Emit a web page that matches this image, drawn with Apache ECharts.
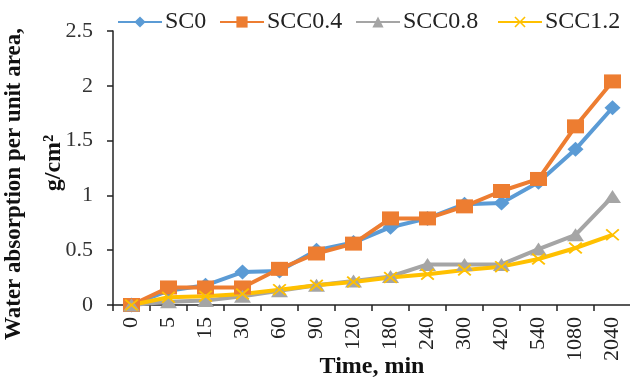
<!DOCTYPE html>
<html><head><meta charset="utf-8">
<script src="https://cdn.jsdelivr.net/npm/echarts@6/dist/echarts.min.js"></script>
<style>html,body{margin:0;padding:0;background:#fff}#c{width:630px;height:378px}</style>
</head><body><div id="c"></div>
<script>
const categories = ['0','5','15','30','60','90','120','180','240','300','420','540','1080','2040'];
const sc0     = [0, 0.13, 0.18, 0.30, 0.31, 0.50, 0.57, 0.71, 0.79, 0.92, 0.93, 1.12, 1.42, 1.80];
const scc04   = [0, 0.16, 0.16, 0.16, 0.33, 0.47, 0.56, 0.79, 0.79, 0.90, 1.04, 1.15, 1.63, 2.04];
const scc08   = [0, 0.03, 0.04, 0.08, 0.13, 0.18, 0.22, 0.26, 0.37, 0.37, 0.37, 0.51, 0.64, 0.99];
const scc12   = [0, 0.07, 0.08, 0.10, 0.14, 0.18, 0.21, 0.25, 0.28, 0.32, 0.35, 0.42, 0.52, 0.64];
const seriesNames = ['SC0','SCC0.4','SCC0.8','SCC1.2'];
const yTicks  = [0, 0.5, 1, 1.5, 2, 2.5];

const serif = '"Liberation Serif","Times New Roman",serif';
const xPath = 'path://M0,1L1,0L5,4L9,0L10,1L6,5L10,9L9,10L5,6L1,10L0,9L4,5Z';

function mk(name, data, color, symbol, size) {
  return {
    name, type: 'line', data, symbol, symbolSize: size,
    lineStyle: { color, width: 4 },
    itemStyle: { color },
    emphasis: { disabled: true }
  };
}

const legendLefts = [112, 214, 350, 492];
const legends = seriesNames.map((n, i) => ({
  data: [n], top: 5, left: legendLefts[i], itemGap: 0, itemWidth: 44, itemHeight: 14,
  textStyle: { fontFamily: serif, fontSize: 24, color: '#222', padding: [0, 0, 0, -2] }
}));

const chart = echarts.init(document.getElementById('c'), null, { renderer: 'canvas' });
chart.setOption({
  animation: false,
  legend: legends,
  grid: { left: 113, right: -1, top: 31, bottom: 73, containLabel: false, outerBoundsMode: 'none' },
  xAxis: {
    type: 'category', data: categories, boundaryGap: true,
    axisLine: { lineStyle: { color: '#222', width: 1.5 } },
    axisTick: { show: true, alignWithLabel: false, length: 6, lineStyle: { color: '#222', width: 1.5 } },
    axisLabel: { rotate: 90, fontFamily: serif, fontSize: 22, color: '#222', margin: 12, interval: 0 },
    name: 'Time, min', nameLocation: 'middle', nameGap: 50, nameMoveOverlap: false,
    nameTextStyle: { fontFamily: serif, fontSize: 24, fontWeight: 'bold', color: '#111' }
  },
  yAxis: {
    type: 'value', min: yTicks[0], max: yTicks[yTicks.length-1], interval: 0.5,
    axisLine: { show: true, lineStyle: { color: '#222', width: 1.5 } },
    axisTick: { show: true, inside: false, length: 6, lineStyle: { color: '#222', width: 1.5 } },
    splitLine: { show: false },
    axisLabel: { fontFamily: serif, fontSize: 22, color: '#333', margin: 20 }
  },
  graphic: [
    { type: 'text', rotation: Math.PI/2, x: 14, y: 184,
      style: { text: 'Water absorption per unit area,', font: 'bold 23px ' + serif, fill: '#111', align: 'center', verticalAlign: 'middle' } },
    { type: 'text', rotation: Math.PI/2, x: 54, y: 163,
      style: { text: 'g/cm²', font: 'bold 24px ' + serif, fill: '#111', align: 'center', verticalAlign: 'middle' } }
  ],
  series: [
    mk(seriesNames[0], sc0, '#5B9BD5', 'diamond', [16, 15]),
    mk(seriesNames[1], scc04, '#ED7D31', 'rect', [17, 14]),
    mk(seriesNames[2], scc08, '#A5A5A5', 'triangle', [17, 13]),
    mk(seriesNames[3], scc12, '#FFC000', xPath, [14, 12])
  ]
});
</script></body></html>
